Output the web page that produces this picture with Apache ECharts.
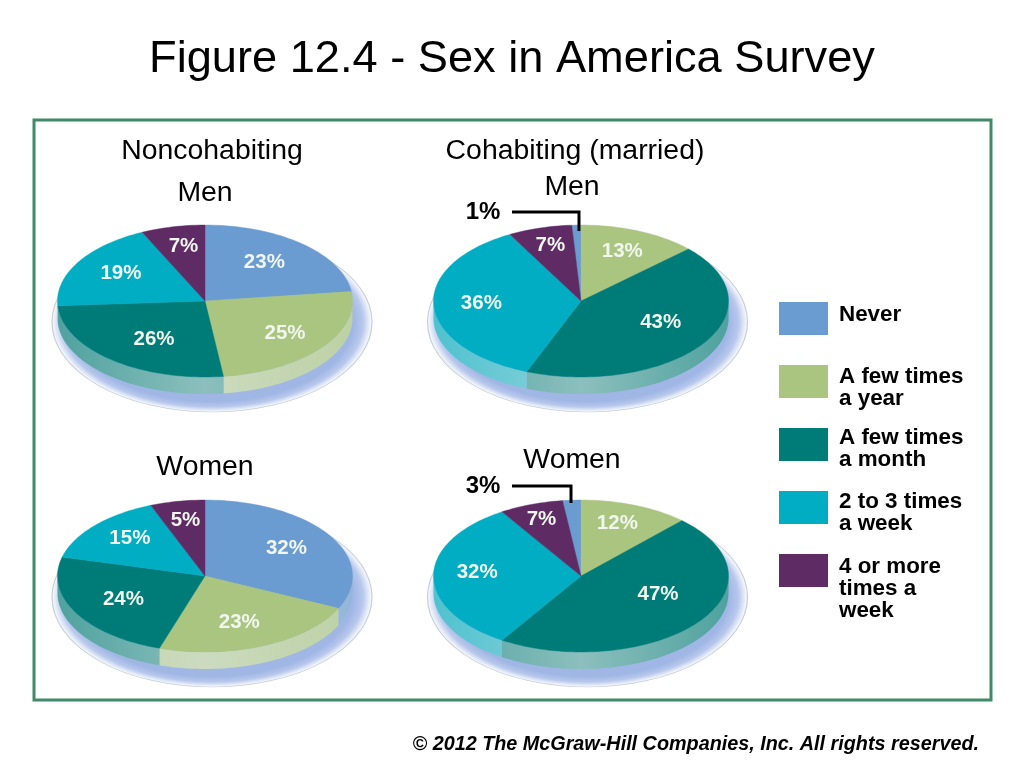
<!DOCTYPE html>
<html><head><meta charset="utf-8">
<style>html,body{margin:0;padding:0;background:#fff}#c{width:1024px;height:768px}</style>
<script src="https://cdn.jsdelivr.net/npm/echarts@6/dist/echarts.min.js"></script>
</head><body><div id="c"></div>
<script>
// ---- data ----
const categories = ['Never', 'A few times a year', 'A few times a month', '2 to 3 times a week', '4 or more times a week'];
const legendLines = ['Never', 'A few times\na year', 'A few times\na month', '2 to 3 times\na week', '4 or more\ntimes a\nweek'];
const noncohabMen = [23, 25, 26, 19, 7];
const noncohabWomen = [32, 23, 24, 15, 5];
const cohabMen = [1, 13, 43, 36, 7];
const cohabWomen = [3, 12, 47, 32, 7];
const pieValues = [noncohabMen, cohabMen, noncohabWomen, cohabWomen];
const firstSlice = [0, 1, 0, 1];   // the category whose slice begins at 12 o'clock
const colors = ['#6a9bd1', '#aac580', '#007c78', '#00adc2', '#5e2b64'];

// ---- layout ----
const RX = 147.5, RY = 76, DEPTH = 17;
const centers = [[205, 301], [581, 301], [205, 576], [581, 576]];
const haloes = [[212, 322], [587.5, 322], [212, 597], [587.5, 597]];
const calloutY = [0, 212, 0, 486];
const calloutTipX = [0, 579, 0, 571];
const calloutTipY = [0, 231, 0, 503];
const FONT = '"Liberation Sans", Arial, sans-serif';
const legendTextY = [304, 366, 427, 491, 556];
const labelNudges = [
  [[-6, 3], [2, 4], [12, 2], [1, 1], [0, -2]],
  [[0, 0], [2, 0], [-2, -4], [-1, 2], [-3, -4]],
  [[-2, 3], [-5, 3], [5, 2], [-1, -1], [-1, -3]],
  [[0, 0], [0, -2], [-1, -10], [-5, -1], [-6, -6]]
];

// each slice spans [from, to] in percent of the circle; the last one closes the pie
function slices(p) {
  const v = pieValues[p], out = [];
  let a = 0;
  for (let k = 0; k < 5; k++) {
    const c = (firstSlice[p] + k) % 5;
    const b = k === 4 ? 100 : a + v[c];
    out.push({ cat: c, from: a, to: b, value: v[c] });
    a = b;
  }
  return out;
}
function pt(c, pct, dy) {
  const t = pct / 100 * 2 * Math.PI;
  return [c[0] + RX * Math.sin(t), c[1] - RY * Math.cos(t) + (dy || 0)];
}
// tint toward a soft grey-white, as on the rim of the reference pies
function mix(hex, w) {
  const n = parseInt(hex.slice(1), 16), f = (s, t) => Math.round(s + (t - s) * w);
  return 'rgb(' + f(n >> 16 & 255, 225) + ',' + f(n >> 8 & 255, 232) + ',' + f(n & 255, 232) + ')';
}

function renderHalo(params, api) {
  const h = haloes[api.value(0)];
  return {
    type: 'circle', x: h[0], y: h[1], scaleY: 90 / 160,
    shape: { cx: 0, cy: 0, r: 160 },
    style: {
      fill: new echarts.graphic.RadialGradient(0.5, 0.5, 0.5, [
        { offset: 0, color: '#a0b6e4' }, { offset: 0.88, color: '#a0b6e4' },
        { offset: 0.94, color: '#b8c8ec' }, { offset: 0.985, color: '#eef2fa' }, { offset: 1, color: '#ffffff' }
      ]),
      stroke: '#c6ced6', lineWidth: 1.2
    }
  };
}
function renderSide(params, api) {
  const p = api.value(0), cat = api.value(1), c = centers[p];
  const from = Math.max(api.value(2), 25), to = Math.min(api.value(3), 75);
  if (to <= from) return null;
  const top = [], bottom = [];
  const n = Math.ceil((to - from) * 2);
  for (let i = 0; i <= n; i++) {
    const q = from + (to - from) * i / n;
    top.push(pt(c, q));
    bottom.unshift(pt(c, q, DEPTH));
  }
  const col = colors[cat];
  return {
    type: 'polygon', shape: { points: top.concat(bottom) },
    style: {
      fill: new echarts.graphic.LinearGradient(c[0] - RX, 0, c[0] + RX, 0, [
        { offset: 0, color: mix(col, 0.35) }, { offset: 0.5, color: mix(col, 0.62) }, { offset: 1, color: mix(col, 0.35) }
      ], true)
    }
  };
}
function renderTop(params, api) {
  const p = api.value(0), from = api.value(2), to = api.value(3), value = api.value(1);
  const c = centers[p], col = api.visual('color');
  const pts = [c], n = Math.max(2, Math.ceil((to - from) * 2));
  for (let i = 0; i <= n; i++) pts.push(pt(c, from + (to - from) * i / n));
  const children = [{ type: 'polygon', shape: { points: pts }, style: { fill: col, stroke: col, lineWidth: 0.4 } }];
  if (value > 4) {
    const t = (from + to) / 200 * 2 * Math.PI;
    const nudge = labelNudges[p][params.seriesIndex - 2];
    children.push({
      type: 'text', x: c[0] + 0.67 * RX * Math.sin(t) + nudge[0], y: c[1] - 0.67 * RY * Math.cos(t) - 3 + nudge[1],
      style: { text: value + '%', fill: '#f1f6ee', font: 'bold 20.5px ' + FONT, align: 'center', verticalAlign: 'middle' }
    });
  } else {
    children.push({
      type: 'polyline',
      shape: { points: [[512, calloutY[p]], [calloutTipX[p], calloutY[p]], [calloutTipX[p], calloutTipY[p]]] },
      style: { stroke: '#000', lineWidth: 3, fill: 'none' }
    });
    children.push({
      type: 'text', x: 483, y: calloutY[p],
      style: { text: value + '%', fill: '#000', font: 'bold 24px ' + FONT, align: 'center', verticalAlign: 'middle' }
    });
  }
  return { type: 'group', children };
}

const allSlices = pieValues.map((_, p) => slices(p));
const series = [
  { name: 'Base', type: 'custom', coordinateSystem: 'none', z: 1, silent: true, renderItem: renderHalo, data: [[0], [1], [2], [3]] },
  {
    name: 'Depth', type: 'custom', coordinateSystem: 'none', z: 2, silent: true, renderItem: renderSide,
    data: allSlices.flatMap((list, p) => list.map(s => [p, s.cat, s.from, s.to]))
  }
].concat(categories.map((name, c) => ({
  name, type: 'custom', coordinateSystem: 'none', z: 3, silent: true, renderItem: renderTop,
  itemStyle: { color: colors[c] },
  data: allSlices.map((list, p) => { const s = list.find(x => x.cat === c); return [p, s.value, s.from, s.to]; })
})));

const heading = (text, x, y, size) => ({
  text, left: x, top: y, textAlign: 'center', textVerticalAlign: 'middle', padding: 0,
  textStyle: { fontFamily: FONT, fontSize: size, fontWeight: 'normal', color: '#000' }
});

const chart = echarts.init(document.getElementById('c'), null, { renderer: 'canvas' });
chart.setOption({
  animation: false,
  backgroundColor: '#ffffff',
  title: [
    heading('Figure 12.4 - Sex in America Survey', 512, 60, 45.2),
    heading('Noncohabiting', 212, 151, 28.4),
    heading('Cohabiting (married)', 575, 151, 28.4),
    heading('Men', 205, 193, 28.4),
    heading('Men', 572, 187, 28.4),
    heading('Women', 205, 467, 28.4),
    heading('Women', 572, 460, 28.4)
  ],
  legend: {
    orient: 'vertical', left: 779, top: 302, padding: 0, itemWidth: 49, itemHeight: 33, itemGap: 30,
    icon: 'rect', selectedMode: false, data: categories, formatter: () => ' ',
    textStyle: { fontSize: 1 }
  },
  graphic: [
    { type: 'rect', shape: { x: 34, y: 120, width: 957, height: 580 }, style: { fill: 'none', stroke: '#3f8a68', lineWidth: 3 }, z: 0, silent: true },
    {
      type: 'text', x: 979, y: 745,
      style: { text: '\u00A9 2012 The McGraw-Hill Companies, Inc. All rights reserved.', fill: '#000', font: 'italic bold 19.8px ' + FONT, align: 'right', verticalAlign: 'middle' }
    }
  ].concat(legendLines.map((t, i) => ({
    type: 'text', x: 839, y: legendTextY[i],
    style: { text: t, fill: '#000', font: 'bold 22.4px ' + FONT, lineHeight: 22, align: 'left', verticalAlign: 'top' }
  }))),
  series
});
</script></body></html>
